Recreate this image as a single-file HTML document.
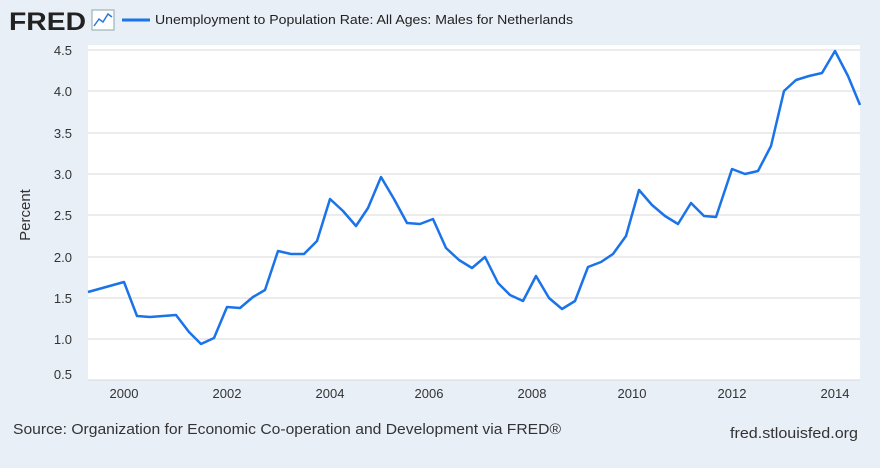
<!DOCTYPE html>
<html><head><style>
body{margin:0;width:880px;height:463px;background:#e8eef6;font-family:"Liberation Sans",sans-serif;overflow:hidden}
</style></head><body>
<svg width="880" height="463" xmlns="http://www.w3.org/2000/svg">
<rect width="880" height="463" fill="#e9eff7"/>
<text x="9" y="30" font-family="Liberation Sans" font-weight="bold" font-size="25" fill="#222" textLength="77" lengthAdjust="spacingAndGlyphs">FRED</text>
<rect x="92" y="10" width="22" height="20" fill="#fff" stroke="#8aa" stroke-width="1"/>
<polyline points="94,26 99,19 103,22 108,14 112,17" fill="none" stroke="#2a7bd6" stroke-width="1.5"/>
<line x1="122" y1="20" x2="150" y2="20" stroke="#1a73e8" stroke-width="3"/>
<text x="155" y="24" font-size="13" fill="#222" textLength="418" lengthAdjust="spacingAndGlyphs">Unemployment to Population Rate: All Ages: Males for Netherlands</text>
<rect x="88" y="45" width="772" height="335" fill="#fff"/>
<g stroke="#d8d8d8" stroke-width="1">
<line x1="88" y1="50" x2="860" y2="50"/><line x1="88" y1="91" x2="860" y2="91"/>
<line x1="88" y1="133" x2="860" y2="133"/><line x1="88" y1="174" x2="860" y2="174"/>
<line x1="88" y1="215" x2="860" y2="215"/><line x1="88" y1="257" x2="860" y2="257"/>
<line x1="88" y1="298" x2="860" y2="298"/><line x1="88" y1="339" x2="860" y2="339"/>
<line x1="88" y1="380" x2="860" y2="380"/>
</g>
<g font-size="13" fill="#333" text-anchor="end">
<text x="72" y="55">4.5</text><text x="72" y="96">4.0</text><text x="72" y="138">3.5</text>
<text x="72" y="179">3.0</text><text x="72" y="220">2.5</text><text x="72" y="262">2.0</text>
<text x="72" y="303">1.5</text><text x="72" y="344">1.0</text><text x="72" y="379">0.5</text>
</g>
<g font-size="13" fill="#333" text-anchor="middle">
<text x="124" y="398">2000</text><text x="227" y="398">2002</text><text x="330" y="398">2004</text>
<text x="429" y="398">2006</text><text x="532" y="398">2008</text><text x="632" y="398">2010</text>
<text x="732" y="398">2012</text><text x="835" y="398">2014</text>
</g>
<text x="30" y="215" font-size="15" fill="#333" text-anchor="middle" transform="rotate(-90 30 215)">Percent</text>
<polyline fill="none" stroke="#1a73e8" stroke-width="2.5" stroke-linejoin="round" points="88,292 124,282 137,316 150,317 163,316 176,315 189,332 201,344 214,338 227,307 240,308 253,297 265,290 278,251 291,254 304,254 317,241 330,199 343,211 356,226 368,208 381,177 394,199 407,223 420,224 433,219 446,248 459,260 472,268 485,257 498,283 510,295 523,301 536,276 549,298 562,309 575,301 588,267 601,262 613,254 626,236 639,190 652,205 665,216 678,224 691,203 704,216 716,217 732,169 745,174 758,171 771,146 784,91 796,80 809,76 822,73 835,51 848,76 860,105"/>
<text x="13" y="434" font-size="15" fill="#333" textLength="548" lengthAdjust="spacingAndGlyphs">Source: Organization for Economic Co-operation and Development via FRED®</text>
<text x="730" y="438" font-size="15" fill="#333" textLength="128" lengthAdjust="spacingAndGlyphs">fred.stlouisfed.org</text>
</svg>
</body></html>
